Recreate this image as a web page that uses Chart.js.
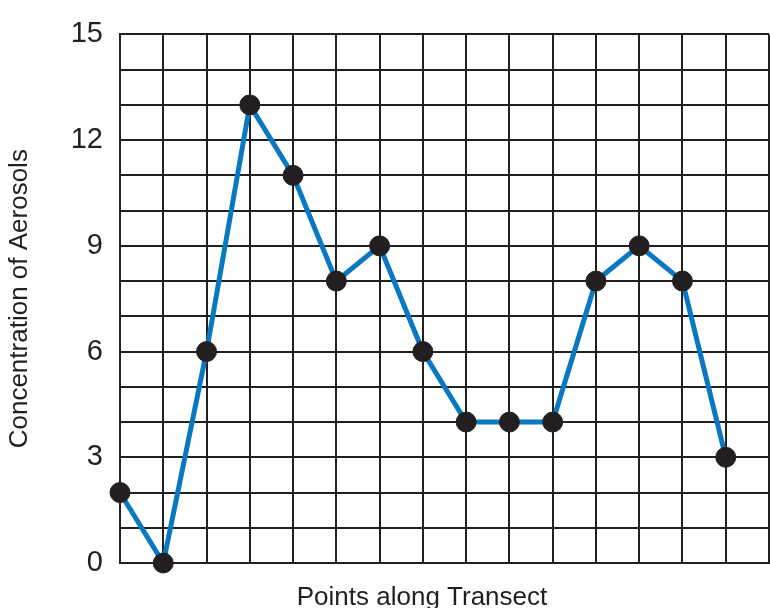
<!DOCTYPE html>
<html>
<head>
<meta charset="utf-8">
<script src="https://cdn.jsdelivr.net/npm/chart.js@4"></script>
<style>
  html, body { margin: 0; padding: 0; background: #fff; overflow: hidden; }
  #wrap { width: 780px; height: 608px; }
</style>
</head>
<body>
<div id="wrap"><canvas id="transectChart"></canvas></div>
<script>
// Aerosol concentration at points along a transect
const transectPoints = [0, 1, 2, 3, 4, 5, 6, 7, 8, 9, 10, 11, 12, 13, 14];
const aerosolValues = [2, 0, 6, 13, 11, 8, 9, 6, 4, 4, 4, 8, 9, 8, 3];
const yLabelTicks = [0, 3, 6, 9, 12, 15];

const ink = '#231f20';
const fontFamily = '"Liberation Sans", Arial, Helvetica, sans-serif';

// x-axis title drawn by hand so it sits where the original has it
const xTitlePlugin = {
  id: 'xTitle',
  afterDraw(chart) {
    const ctx = chart.ctx;
    ctx.save();
    ctx.font = '26px ' + fontFamily;
    ctx.fillStyle = ink;
    ctx.textAlign = 'center';
    ctx.textBaseline = 'alphabetic';
    ctx.fillText('Points along Transect', 422, 605);
    ctx.restore();
  }
};

const ctx = document.getElementById('transectChart').getContext('2d');
new Chart(ctx, {
  type: 'line',
  data: {
    datasets: [{
      data: transectPoints.map((p, i) => ({ x: p, y: aerosolValues[i] })),
      borderColor: '#0878c2',
      borderWidth: 5,
      tension: 0,
      pointRadius: 10,
      pointBackgroundColor: ink,
      pointBorderColor: ink,
      pointBorderWidth: 1,
      clip: false
    }]
  },
  options: {
    responsive: true,
    maintainAspectRatio: false,
    animation: false,
    events: [],
    layout: { padding: { top: 31, bottom: 45, left: 0, right: 6 } },
    plugins: {
      legend: { display: false },
      tooltip: { enabled: false }
    },
    scales: {
      x: {
        type: 'linear',
        min: 0,
        max: 15,
        ticks: { display: false, stepSize: 1 },
        grid: { color: ink, lineWidth: 2, drawTicks: false },
        border: { color: ink, width: 2 }
      },
      y: {
        min: 0,
        max: 15,
        afterFit(scale) { scale.width = 120; },
        ticks: {
          stepSize: 1,
          autoSkip: false,
          padding: 17,
          color: ink,
          font: { family: fontFamily, size: 29 },
          callback: v => yLabelTicks.includes(v) ? String(v) : ''
        },
        grid: { color: ink, lineWidth: 2, drawTicks: false },
        border: { color: ink, width: 2 },
        title: {
          display: true,
          text: 'Concentration of Aerosols',
          color: ink,
          font: { family: fontFamily, size: 26 },
          padding: { top: 4, bottom: 0 }
        }
      }
    }
  },
  plugins: [xTitlePlugin]
});
</script>
</body>
</html>
